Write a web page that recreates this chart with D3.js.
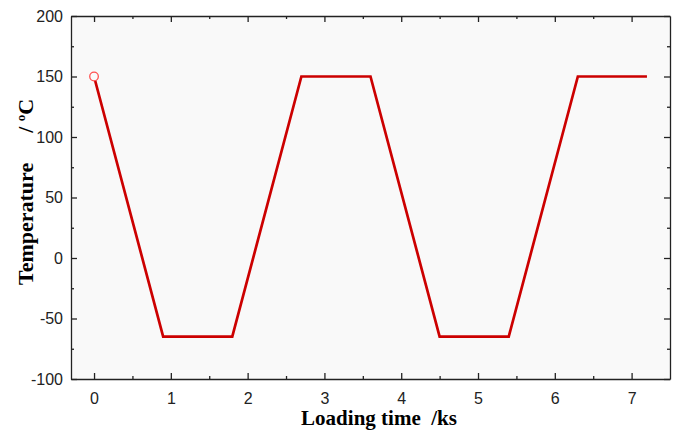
<!DOCTYPE html>
<html>
<head>
<meta charset="utf-8">
<script src="https://d3js.org/d3.v7.min.js"></script>
<style>
  body { margin: 0; background: #fff; }
  .axis path, .axis line { stroke: #222; stroke-width: 1.3px; }
</style>
</head>
<body>
<div id="chart"></div>
<script>
// loading cycle: time (ks) vs temperature (°C)
var times = [0, 0.9, 1.8, 2.7, 3.6, 4.5, 5.4, 6.3, 7.2];
var temps = [150, -65, -65, 150, 150, -65, -65, 150, 150];
var xTicks = [0, 1, 2, 3, 4, 5, 6, 7];
var yTicks = [-100, -50, 0, 50, 100, 150, 200];

var width = 679, height = 431;
var margin = {left: 71, top: 16, right: 9, bottom: 52};
var w = width - margin.left - margin.right,
    h = height - margin.top - margin.bottom;

var svg = d3.select("#chart").append("svg")
  .attr("width", width).attr("height", height);

var g = svg.append("g")
  .attr("transform", "translate(" + margin.left + "," + margin.top + ")");

var x = d3.scaleLinear().domain([-0.3, 7.5]).range([0, w]);
var y = d3.scaleLinear().domain([-100, 200]).range([h, 0]);

g.append("rect").attr("width", w).attr("height", h).attr("fill", "#f9f9f9");

var xMinor = [-0.5, 0.5, 1.5, 2.5, 3.5, 4.5, 5.5, 6.5, 7.5].filter(function(d) { return d > -0.3 && d < 7.5; });
var yMinor = [-75, -25, 25, 75, 125, 175];

// minor ticks, all four sides
function minorTicks(axis, vals) {
  return axis.tickValues(vals).tickSize(-3).tickFormat("");
}
g.append("g").attr("class", "axis").attr("transform", "translate(0," + h + ")")
  .call(minorTicks(d3.axisBottom(x), xMinor)).select(".domain").remove();
g.append("g").attr("class", "axis")
  .call(minorTicks(d3.axisTop(x), xMinor)).select(".domain").remove();
g.append("g").attr("class", "axis")
  .call(minorTicks(d3.axisLeft(y), yMinor)).select(".domain").remove();
g.append("g").attr("class", "axis").attr("transform", "translate(" + w + ",0)")
  .call(minorTicks(d3.axisRight(y), yMinor)).select(".domain").remove();

// major ticks
var fmt = function(d) { return String(d); };
var xb = g.append("g").attr("class", "axis").attr("transform", "translate(0," + h + ")")
  .call(d3.axisBottom(x).tickValues(xTicks).tickFormat(fmt).tickSizeInner(-6).tickSizeOuter(0).tickPadding(14));
g.append("g").attr("class", "axis")
  .call(d3.axisTop(x).tickValues(xTicks).tickSizeInner(-6).tickSizeOuter(0).tickFormat(""));
var yl = g.append("g").attr("class", "axis")
  .call(d3.axisLeft(y).tickValues(yTicks).tickFormat(fmt).tickSizeInner(-6).tickSizeOuter(0).tickPadding(8));
g.append("g").attr("class", "axis").attr("transform", "translate(" + w + ",0)")
  .call(d3.axisRight(y).tickValues(yTicks).tickSizeInner(-6).tickSizeOuter(0).tickFormat(""));

[xb, yl].forEach(function(a) {
  a.selectAll(".tick text")
    .attr("font-family", "Arial, 'Liberation Sans', sans-serif")
    .attr("font-size", 16).attr("fill", "#222");
});

var pts = times.map(function(t, i) { return [t, temps[i]]; });

var line = d3.line().x(function(d) { return x(d[0]); }).y(function(d) { return y(d[1]); });

g.append("path").datum(pts)
  .attr("d", line)
  .attr("fill", "none")
  .attr("stroke", "#cc0000")
  .attr("stroke-width", 2.7)
  .attr("stroke-linejoin", "miter");

g.append("circle")
  .attr("cx", x(pts[0][0])).attr("cy", y(pts[0][1])).attr("r", 4.3)
  .attr("fill", "#fafafa").attr("stroke", "#ff5050").attr("stroke-width", 1.3);

// axis titles
svg.append("text")
  .attr("x", 379).attr("y", 425)
  .attr("text-anchor", "middle")
  .style("font-family", "'Times New Roman', 'Liberation Serif', serif")
  .style("font-weight", "bold").style("font-size", "21px")
  .attr("xml:space", "preserve")
  .text("Loading time  /ks");

var yt = svg.append("text")
  .attr("transform", "translate(33,285) rotate(-90)")
  .attr("text-anchor", "start")
  .style("font-family", "'Times New Roman', 'Liberation Serif', serif")
  .style("font-weight", "bold").style("font-size", "22px");
yt.append("tspan").text("Temperature");
yt.append("tspan").attr("dx", 30).text("/ ");
yt.append("tspan").attr("dy", -8).style("font-size", "13px").text("o");
yt.append("tspan").attr("dy", 8).text("C");
</script>
</body>
</html>
